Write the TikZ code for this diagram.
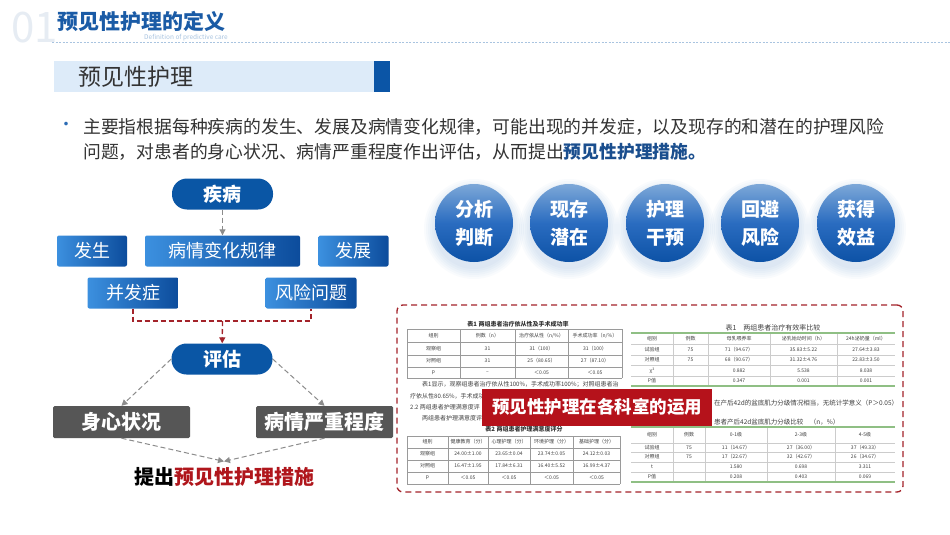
\documentclass[tikz,border=0pt]{standalone}
\usepackage{fontspec}
\setmainfont{Noto Sans CJK SC}
\usetikzlibrary{arrows.meta,calc}

\definecolor{numgray}{HTML}{E6ECF3}
\definecolor{titleblue}{HTML}{1A5BA6}
\definecolor{subblue}{HTML}{A9C4E0}
\definecolor{barblue}{HTML}{DDEBF9}
\definecolor{bardark}{HTML}{0B55A6}
\definecolor{bodytext}{HTML}{333333}
\definecolor{bulletblue}{HTML}{2C6CB5}
\definecolor{strongblue}{HTML}{1A4E8E}
\definecolor{pillblue}{HTML}{0A56A5}
\definecolor{boxlight}{HTML}{3C90DF}
\definecolor{boxdark}{HTML}{0C4C9C}
\definecolor{boxgray}{HTML}{565656}
\definecolor{linkgray}{HTML}{8C8C8C}
\definecolor{linkred}{HTML}{A3232A}
\definecolor{measurered}{HTML}{B0161C}
\definecolor{ballTop}{HTML}{7DA8D8}
\definecolor{ballMid}{HTML}{2A6CC0}
\definecolor{ballBot}{HTML}{0D52A6}
\definecolor{glowblue}{HTML}{5A92D6}
\definecolor{bannerred}{HTML}{B5121B}
\definecolor{tabgray}{HTML}{9A9A9A}
\definecolor{tabgreen}{HTML}{8FBF84}

\begin{document}
\begin{tikzpicture}[
        x=1pt, y=-1pt,
        every node/.style={inner sep=0pt},
        pill/.style={fill=pillblue, rounded corners=15pt, minimum width=101pt, minimum height=31pt,
                     text=white, font=\bfseries\fontsize{19}{19}\selectfont},
        bluebox/.style={left color=boxlight, right color=boxdark, rounded corners=2pt, minimum height=31pt,
                        text=white, font=\fontsize{18}{18}\selectfont},
        graybox/.style={fill=boxgray, rounded corners=1.5pt, minimum width=137pt, minimum height=32pt,
                        text=white, font=\bfseries\fontsize{20}{20}\selectfont},
        graylink/.style={draw=linkgray, line width=1pt, dash pattern=on 5pt off 3pt,
                         -{Triangle[length=6pt, width=6pt]}},
        redlink/.style={draw=linkred, line width=1.3pt, dash pattern=on 5pt off 3pt},
        ball/.style={circle, minimum size=78pt, top color=ballTop, bottom color=ballBot, middle color=ballMid,
                     text=white, align=center, font=\bfseries\fontsize{19}{28}\selectfont},
        frame/.style={draw=linkred, line width=1.3pt, dash pattern=on 6pt off 4pt, rounded corners=6pt},
        banner/.style={fill=bannerred, minimum width=230pt, minimum height=37pt,
                       text=white, font=\bfseries\fontsize{17.5}{17.5}\selectfont},
        tabline/.style={draw=tabgray, line width=0.5pt},
        lightline/.style={draw=black!20, line width=0.4pt},
        greenline/.style={draw=tabgreen, line width=1.2pt},
        cell/.style={font=\fontsize{5}{5}\selectfont, text=black!75},
        tabtext/.style={font=\fontsize{6}{6}\selectfont, text=black!75, anchor=west},
    ]
    \useasboundingbox[fill=white] (0,0) rectangle (950,535);

    % --- Title ---
    \node[anchor=west, text=numgray, font=\fontsize{42}{42}\selectfont] (num) at (11,28) {01};
    \node[anchor=west, text=titleblue, font=\bfseries\fontsize{21}{21}\selectfont] (title) at (57,21) {预见性护理的定义};
    \node[text=subblue, font=\fontsize{6.5}{6.5}\selectfont] (entitle) at (186,38) {Definition of predictive care};
    \draw[subblue, line width=0.6pt, dash pattern=on 2pt off 1.5pt] (52,42.5) -- (950,42.5);

    % --- Heading bar ---
    \node[fill=barblue, minimum width=336pt, minimum height=31pt, anchor=west] (bar) at (54,76.5) {};
    \fill[bardark] (374,61) rectangle (390,92);
    \node[anchor=west, text=bodytext, font=\fontsize{23}{23}\selectfont] (head) at (78,77) {预见性护理};

    % --- Definition text ---
    \node[text=bulletblue, font=\fontsize{17}{17}\selectfont] (dot) at (66,126) {•};
    \node[anchor=west, text=bodytext, font=\fontsize{17.8}{17.8}\selectfont] (line1) at (83,127)
        {主要指根据每种疾病的发生、发展及病情变化规律，可能出现的并发症，以及现存的和潜在的护理风险};
    \node[anchor=west, text=bodytext, font=\fontsize{17.8}{17.8}\selectfont] (line2) at (83,152)
        {问题，对患者的身心状况、病情严重程度作出评估，从而提出\textbf{\color{strongblue}预见性护理措施。}};

    % --- Flow: disease ---
    \node[pill] (disease) at (222.5,194) {疾病};
    \node[bluebox, minimum width=70pt] (onset) at (92,251) {发生};
    \node[bluebox, minimum width=155pt] (course) at (222.5,251) {病情变化规律};
    \node[bluebox, minimum width=70pt] (develop) at (353.5,251) {发展};
    \node[bluebox, minimum width=91pt] (complic) at (133,293) {并发症};
    \node[bluebox, minimum width=91pt] (risk) at (311,293) {风险问题};
    \draw[graylink] (disease) -- (course);

    % --- Flow: assessment ---
    \coordinate (join) at (222.5,321);
    \draw[redlink] (complic.south) |- (join) -| (risk.south);
    \node[pill] (assess) at (222,359) {评估};
    \draw[redlink, -{Triangle[length=6pt, width=6pt]}] (join) -- (assess);
    \node[graybox] (body) at (121.5,422) {身心状况};
    \node[graybox] (severity) at (324.5,422) {病情严重程度};
    \draw[graylink] (assess.west) -- (body.north);
    \draw[graylink] (assess.east) -- (severity.north);
    \node[font=\bfseries\fontsize{20}{20}\selectfont, outer sep=6pt] (measure) at (224,477)
        {提出\textcolor{measurered}{预见性护理措施}};
    \draw[graylink] (body.south) -- (measure.north);
    \draw[graylink] (severity.south) -- (measure.north);

    % --- Key points ---
    \foreach \i/\cx/\ta/\tb in {1/474/分析/判断, 2/569/现存/潜在, 3/665/护理/干预, 4/760/回避/风险, 5/856/获得/效益}
    {
        \foreach \r in {40,42,...,50}
            \fill[glowblue, opacity=0.035] (\cx,229) circle (\r pt);
        \node[ball] (goal\i) at (\cx,223) {\ta\\\tb};
    }

    % --- Left sheet: table 1 ---
    \node[font=\bfseries\fontsize{6}{6}\selectfont, text=black!80] (capa) at (518,324) {表1 两组患者治疗依从性及手术成功率};
    \foreach \x in {407,460,515,568,622} \draw[tabline] (\x,329) -- (\x,378);
    \foreach \y in {329,342,355,367,378} \draw[tabline] (407,\y) -- (622,\y);
    \foreach \y/\a/\b/\c/\d in {335.5/组别/例数（n）/{治疗依从性（n/\%）}/{手术成功率（n/\%）},
                                348.5/观察组/31/31（100）/31（100）,
                                361/对照组/31/25（80.65）/27（87.10）,
                                372.5/p/--/＜0.05/＜0.05}
    {
        \node[cell] at (433.5,\y) {\a};
        \node[cell] at (487.5,\y) {\b};
        \node[cell] at (541.5,\y) {\c};
        \node[cell] at (595,\y) {\d};
    }
    \node[tabtext] at (422,384) {表1显示，观察组患者治疗依从性100\%，手术成功率100\%；对照组患者治};
    \node[tabtext] at (410,396) {疗依从性80.65\%，手术成功};
    \node[tabtext] at (410,407) {2.2 两组患者护理满意度评};
    \node[tabtext] at (422,418) {两组患者护理满意度评};

    % --- Left sheet: table 2 ---
    \node[font=\bfseries\fontsize{6}{6}\selectfont, text=black!80] (capb) at (524,429) {表2 两组患者护理满意度评分};
    \foreach \x in {407,448,488,530,573,620} \draw[tabline] (\x,436) -- (\x,484);
    \foreach \y in {436,448,460,472,484} \draw[tabline] (407,\y) -- (620,\y);
    \foreach \y/\a/\b/\c/\d/\e in {442/组别/健康教育（分）/心理护理（分）/环境护理（分）/基础护理（分）,
                                   454/观察组/24.00±1.00/23.65±0.04/23.74±0.05/24.12±0.03,
                                   466/对照组/16.47±1.95/17.84±6.31/16.40±5.52/16.99±4.37,
                                   478/p/＜0.05/＜0.05/＜0.05/＜0.05}
    {
        \node[cell] at (427.5,\y) {\a};
        \node[cell] at (468,\y) {\b};
        \node[cell] at (509,\y) {\c};
        \node[cell] at (551.5,\y) {\d};
        \node[cell] at (596.5,\y) {\e};
    }

    % --- Right sheet ---
    \begin{scope}
        \clip (631,316) rectangle (900,490);
        \node[font=\fontsize{7}{7}\selectfont, text=black!75] (capc) at (773,328) {表1\quad 两组患者治疗有效率比较};
        \foreach \x in {673,708,770,837} \draw[lightline] (\x,333) -- (\x,386);
        \foreach \y in {344,355,365,376} \draw[lightline] (631,\y) -- (895,\y);
        \draw[greenline] (631,333) -- (895,333);
        \draw[greenline] (631,386) -- (895,386);
        \foreach \y/\a/\b/\c/\d/\e in {338.5/组别/例数/母乳喂养率/泌乳始动时间（h）/24h泌奶量（ml）,
                                       349.5/试验组/75/71（94.67）/35.83±5.22/27.64±3.83,
                                       360/对照组/75/68（90.67）/31.32±4.76/22.83±3.50,
                                       370.5/χ²//0.882/5.538/8.038,
                                       381/P值//0.347/0.001/0.001}
        {
            \node[cell] at (652,\y) {\a};
            \node[cell] at (690.5,\y) {\b};
            \node[cell] at (739,\y) {\c};
            \node[cell] at (803.5,\y) {\d};
            \node[cell] at (866,\y) {\e};
        }
        \node[tabtext, font=\fontsize{6.5}{6.5}\selectfont] at (714,403) {在产后42d的盆底肌力分级情况相当，无统计学意义（P＞0.05）};
        \node[tabtext, font=\fontsize{6.5}{6.5}\selectfont] at (714,422) {患者产后42d盆底肌力分级比较\quad （n，\%）};
        \foreach \x in {673,705,767,835} \draw[lightline] (\x,427) -- (\x,482);
        \foreach \y in {443,452,462,472} \draw[lightline] (631,\y) -- (895,\y);
        \draw[greenline] (631,427) -- (895,427);
        \draw[greenline] (631,482) -- (895,482);
        \foreach \y/\a/\b/\c/\d/\e in {435/组别/例数/0-1级/2-3级/4-5级,
                                       447.5/试验组/75/11（14.67）/27（36.00）/37（49.33）,
                                       457/对照组/75/17（22.67）/32（42.67）/26（34.67）,
                                       467/t//1.580/0.698/3.311,
                                       477/P值//0.208/0.403/0.069}
        {
            \node[cell] at (652,\y) {\a};
            \node[cell] at (689,\y) {\b};
            \node[cell] at (736,\y) {\c};
            \node[cell] at (801,\y) {\d};
            \node[cell] at (865,\y) {\e};
        }
    \end{scope}

    % --- Banner and frame ---
    \node[banner] (usage) at (597,407) {预见性护理在各科室的运用};
    \node[frame, minimum width=506pt, minimum height=187pt] (cases) at (650,398.5) {};
\end{tikzpicture}
\end{document}
